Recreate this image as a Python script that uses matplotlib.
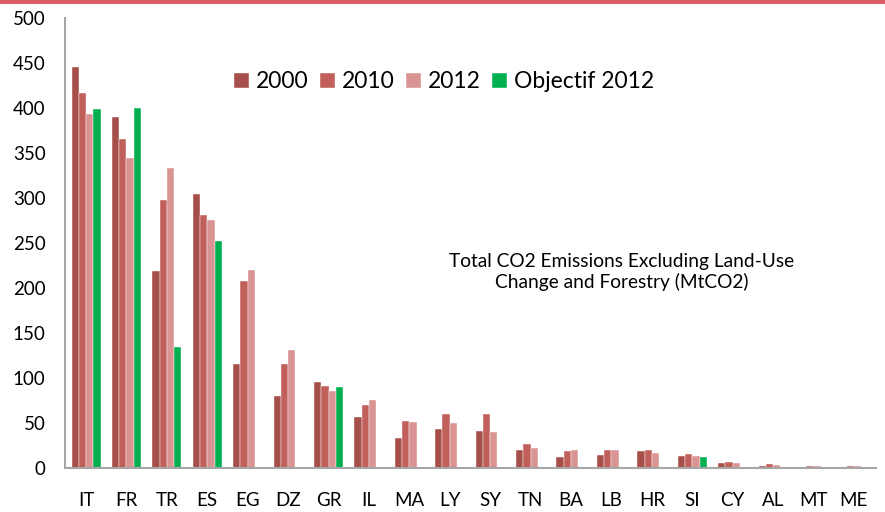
import numpy as np
import matplotlib.pyplot as plt
from matplotlib.lines import Line2D

countries = ['IT', 'FR', 'TR', 'ES', 'EG', 'DZ', 'GR', 'IL', 'MA', 'LY',
             'SY', 'TN', 'BA', 'LB', 'HR', 'SI', 'CY', 'AL', 'MT', 'ME']
y2000 = [446, 390, 219, 304, 115, 80, 95, 57, 33, 43,
         41, 20, 12.6, 14, 18.5, 13.7, 6, 2.2, 1.1, np.nan]
y2010 = [417, 365, 298, 281, 208, 116, 91, 70, 52, 60,
         60, 27, 19, 20, 19.6, 15.5, 6.7, 4, 2.2, 2.5]
y2012 = [393, 344, 333, 276, 220, 131, 85, 76, 51, 50,
         40, 22, 20, 20, 16.7, 13.7, 6, 3, 2.2, 2.5]
objectif = [399, 400, 134, 252, np.nan, np.nan, 90, np.nan, np.nan, np.nan,
            np.nan, np.nan, np.nan, np.nan, np.nan, 12.6, np.nan, np.nan, np.nan, np.nan]

series = [('2000', y2000, '#a64f4a'),
          ('2010', y2010, '#c15f5a'),
          ('2012', y2012, '#d99493'),
          ('Objectif 2012', objectif, '#00b050')]

plt.rcParams['font.family'] = ['Lato', 'DejaVu Sans']

fig = plt.figure(figsize=(8.85, 5.12), dpi=100)
ax = fig.add_axes([0.0735, 0.086, 0.916, 0.879])

x = np.arange(len(countries))
w = 0.18
for i, (name, vals, col) in enumerate(series):
    ax.bar(x + (i - 1.5) * w, vals, width=w, color=col, edgecolor='white',
           linewidth=0.3, label=name)

ax.set_xlim(-0.52, 19.54)
ax.set_ylim(0, 500)
ax.set_yticks(range(0, 501, 50))
ax.set_xticks(x)
ax.set_xticklabels(countries)
ax.tick_params(axis='both', length=0, labelsize=13.5, colors='black')
ax.tick_params(axis='x', pad=17)
ax.tick_params(axis='y', pad=14)

for s in ['top', 'right']:
    ax.spines[s].set_visible(False)
for s in ['left', 'bottom']:
    ax.spines[s].set_color('#a6a6a6')
    ax.spines[s].set_linewidth(1.5)

fig.legend(loc='center', bbox_to_anchor=(0.502, 1 - 82 / 512), ncol=4,
           frameon=False, fontsize=16.5, handlelength=0.65, handleheight=0.65,
           handletextpad=0.3, columnspacing=0.5)

fig.text(622 / 885, 1 - 272 / 512,
         'Total CO2 Emissions Excluding Land-Use\nChange and Forestry (MtCO2)',
         ha='center', va='center', fontsize=13.8, linespacing=1.25)

# red strip at the top
fig.add_artist(Line2D([0, 1], [1, 1], transform=fig.transFigure,
                      color='#d95b63', linewidth=5))

fig.savefig('out.png', dpi=100)
